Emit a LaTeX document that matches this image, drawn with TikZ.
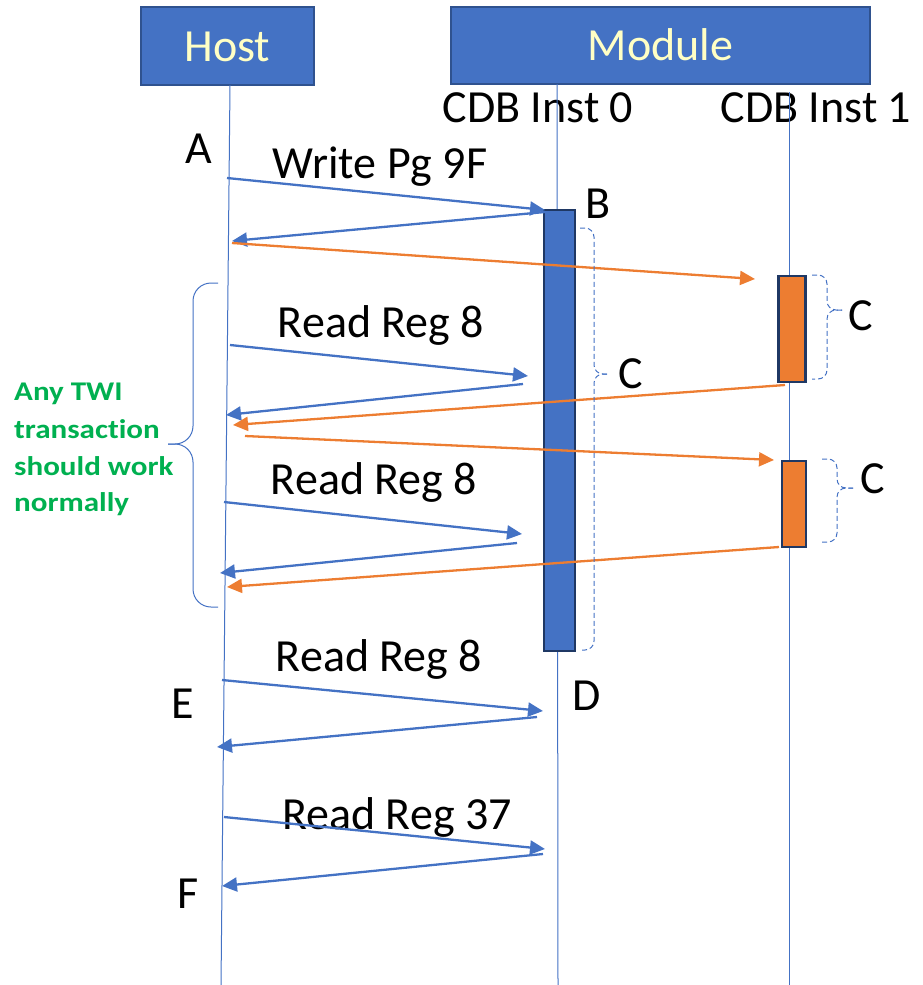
\documentclass[tikz,border=0pt]{standalone}
\usepackage{fontspec}
\usepackage{graphicx}
\setmainfont{Carlito}[Ligatures=NoCommon]
\usetikzlibrary{arrows.meta}
\definecolor{acc}{HTML}{4472C4}
\definecolor{accdark}{HTML}{2F528F}
\definecolor{bardark}{HTML}{1F3864}
\definecolor{org}{HTML}{ED7D31}
\definecolor{cream}{HTML}{FFFFC5}
\definecolor{grn}{HTML}{00B050}
\begin{document}
\begin{tikzpicture}[x=1pt,y=-1pt,
  lbl/.style={font=\fontsize{46}{50}\selectfont, anchor=base, inner sep=0},
  note/.style={font=\bfseries\fontsize{27}{32}\selectfont, text=grn, anchor=base west, inner sep=0},
  header/.style={draw=accdark, line width=2.5pt, fill=acc, text=cream,
    font=\fontsize{46}{50}\selectfont, inner sep=0, text height=30pt, text depth=0pt},
  life/.style={draw=acc, line width=1pt},
  msg/.style={draw=acc, line width=2.3pt, -{Triangle[length=15pt,width=14pt]}},
  omsg/.style={draw=org, line width=2.3pt, -{Triangle[length=15pt,width=14pt]}},
  actbar/.style={draw=bardark, line width=2.5pt, inner sep=0},
  dbrace/.style={draw=acc, line width=1pt, dash pattern=on 5pt off 3pt, rounded corners=9pt},
  sbrace/.style={draw=acc, line width=1pt, rounded corners=18pt},
]
\useasboundingbox (0,0) rectangle (922,985);

% header boxes
\node[header, minimum width=173pt, minimum height=78pt] (host) at (227.5,46) {Host};
\node[header, minimum width=419pt, minimum height=77pt] (module) at (660.5,45.5) {Module};

% instance labels
\node[lbl] (inst0) at (538,122) {CDB Inst 0};
\node[lbl] (inst1) at (816,122) {CDB Inst 1};

% lifelines
\coordinate (hTop) at (230,85);   \coordinate (hBot) at (221,985);
\coordinate (iaTop) at (557,84);  \coordinate (iaBot) at (558,985);
\coordinate (ibTop) at (789,92);  \coordinate (ibBot) at (789,985);
\draw[life] (hTop) -- (hBot);
\draw[life] (iaTop) -- (iaBot);
\draw[life] (ibTop) -- (ibBot);

% activation bars
\node[actbar, fill=acc, minimum width=31pt, minimum height=441pt] (act0) at (559.5,430.5) {};
\node[actbar, fill=org, minimum width=27pt, minimum height=106pt] (act1) at (792,329) {};
\node[actbar, fill=org, minimum width=24pt, minimum height=86pt] (act2) at (794,504) {};

% message end points
\coordinate (a1) at (227,178); \coordinate (b1) at (545,210);
\coordinate (a2) at (545,212); \coordinate (b2) at (232,241);
\coordinate (a3) at (232,243); \coordinate (b3) at (755,279);
\coordinate (a4) at (230,345); \coordinate (b4) at (528,376);
\coordinate (a5) at (523,384); \coordinate (b5) at (226,415);
\coordinate (a6) at (785,385); \coordinate (b6) at (233,425);
\coordinate (a7) at (245,436); \coordinate (b7) at (774,460);
\coordinate (a8) at (224,502); \coordinate (b8) at (522,534);
\coordinate (a9) at (517,543); \coordinate (b9) at (220,573);
\coordinate (a10) at (779,547); \coordinate (b10) at (227,587);
\coordinate (a11) at (222,680); \coordinate (b11) at (543,711);
\coordinate (a12) at (537,717); \coordinate (b12) at (217,747);
\coordinate (a13) at (224,817); \coordinate (b13) at (545,849);
\coordinate (a14) at (543,854); \coordinate (b14) at (222,886);

% message labels
\node[lbl] (wpg) at (380,178) {Write Pg 9F};
\node[lbl] (rr1) at (381,337) {Read Reg 8};
\node[lbl] (rr2) at (374,494) {Read Reg 8};
\node[lbl] (rr3) at (379,671) {Read Reg 8};
\node[lbl] (rr4) at (397,829) {Read Reg 37};

% messages
\draw[msg] (a1) -- (b1);
\draw[msg] (a2) -- (b2);
\draw[omsg] (a3) -- (b3);
\draw[msg] (a4) -- (b4);
\draw[msg] (a5) -- (b5);
\draw[omsg] (a6) -- (b6);
\draw[omsg] (a7) -- (b7);
\draw[msg] (a8) -- (b8);
\draw[msg] (a9) -- (b9);
\draw[omsg] (a10) -- (b10);
\draw[msg] (a11) -- (b11);
\draw[msg] (a12) -- (b12);
\draw[msg] (a13) -- (b13);
\draw[msg] (a14) -- (b14);

% point labels
\node[lbl] (pA) at (199,163) {A};
\node[lbl] (pB) at (598,218) {B};
\node[lbl] (pD) at (587,710) {D};
\node[lbl] (pE) at (183,718) {E};
\node[lbl] (pF) at (188,908) {F};
\node[lbl] (pC0) at (631,388) {C};
\node[lbl] (pC1) at (861,330) {C};
\node[lbl] (pC2) at (873,493) {C};

% dashed braces beside the activation bars
\draw[dbrace] (580,228) -- (594,228) -- (594,374) -- (607,374);
\draw[dbrace] (607,374) -- (594,374) -- (594,650) -- (580,650);
\draw[dbrace] (812,275) -- (827,275) -- (827,310) -- (842,310);
\draw[dbrace] (842,310) -- (827,310) -- (827,379) -- (812,379);
\draw[dbrace] (822,459) -- (837,459) -- (837,488) -- (853,488);
\draw[dbrace] (853,488) -- (837,488) -- (837,542) -- (822,542);

% brace grouping the normal transactions
\draw[sbrace] (218,283) -- (193,283) -- (193,444) -- (168,444);
\draw[sbrace] (168,444) -- (193,444) -- (193,607) -- (218,607);

\node[note] (n1) at (14,400) {\scalebox{1.15}[1]{Any TWI}};
\node[note] (n2) at (14,438) {\scalebox{1.15}[1]{transaction}};
\node[note] (n3) at (14,475) {\scalebox{1.15}[1]{should work}};
\node[note] (n4) at (14,511) {\scalebox{1.15}[1]{normally}};
\end{tikzpicture}
\end{document}
